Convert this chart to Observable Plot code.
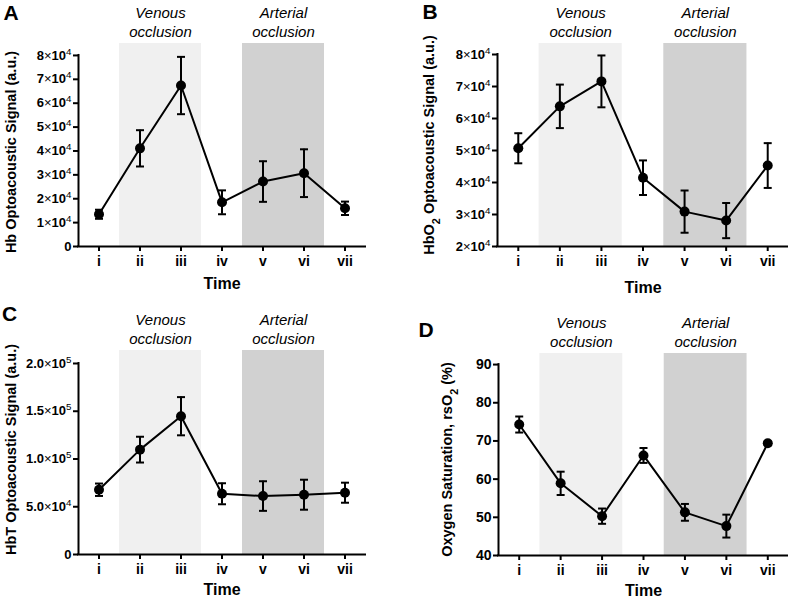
<!DOCTYPE html>
<html><head><meta charset="utf-8">
<script src="https://cdn.jsdelivr.net/npm/d3@7"></script>
<script src="https://cdn.jsdelivr.net/npm/@observablehq/plot@0.6"></script>
<style>
body{margin:0;background:#fff}
#wrap{position:relative;width:788px;height:598px;background:#fff}
.panel{position:absolute}
</style>
</head><body><div id="wrap"></div>
<script>
// ---- data ----
const timeLabels = ["i", "ii", "iii", "iv", "v", "vi", "vii"];
const timeIndex = [1, 2, 3, 4, 5, 6, 7];

const hbMean   = [13500, 41100, 67400, 18500, 27200, 30700, 16000];
const hbErr    = [1900, 7600, 12000, 5000, 8500, 10000, 2800];
const hbo2Mean = [50700, 63800, 71600, 41500, 30900, 28100, 45300];
const hbo2Err  = [4700, 6800, 8100, 5400, 6600, 5500, 7000];
const hbtMean  = [67800, 109800, 144800, 63600, 61200, 62600, 64700];
const hbtErr   = [6500, 13500, 20000, 11000, 15500, 15700, 10500];
const so2Mean  = [74.3, 58.9, 50.3, 66.2, 51.3, 47.7, 69.4];
const so2Err   = [2.1, 3.05, 2.0, 1.95, 2.2, 3.0, 0.5];

const hbTicks = [0, 10000, 20000, 30000, 40000, 50000, 60000, 70000, 80000];
const hbTickLabels = ["0", "1×10^4", "2×10^4", "3×10^4", "4×10^4", "5×10^4", "6×10^4", "7×10^4", "8×10^4"];
const hbo2Ticks = [20000, 30000, 40000, 50000, 60000, 70000, 80000];
const hbo2TickLabels = ["2×10^4", "3×10^4", "4×10^4", "5×10^4", "6×10^4", "7×10^4", "8×10^4"];
const hbtTicks = [0, 50000, 100000, 150000, 200000];
const hbtTickLabels = ["0", "5.0×10^4", "1.0×10^5", "1.5×10^5", "2.0×10^5"];
const so2Ticks = [40, 50, 60, 70, 80, 90];
const so2TickLabels = ["40", "50", "60", "70", "80", "90"];

const periodLine1 = ["Venous", "Arterial"];
const periodLine2 = ["occlusion", "occlusion"];
const periodStart = [1.5, 4.5];
const periodEnd   = [3.5, 6.5];
const periodFill  = ["#f0f0f0", "#d1d1d1"];

// ---- drawing ----
const NS = "http://www.w3.org/2000/svg";
function richText(svg) {
  svg.querySelectorAll("text").forEach(t => {
    if (t.querySelector("tspan")) return;
    const s = t.textContent;
    if (!/[\^_×]/.test(s)) return;
    t.textContent = "";
    let buf = "";
    const flush = () => { if (buf) { t.appendChild(document.createTextNode(buf)); buf = ""; } };
    for (let i = 0; i < s.length; i++) {
      const c = s[i];
      if ((c === "^" || c === "_") && i + 1 < s.length) {
        flush();
        const ts = document.createElementNS(NS, "tspan");
        ts.textContent = s[++i];
        ts.setAttribute("font-size", "75%");
        ts.setAttribute("font-weight", c === "^" ? "normal" : "bold");
        ts.setAttribute("baseline-shift", c === "^" ? "super" : "sub");
        t.appendChild(ts);
      } else if (c === "×") {
        flush();
        const ts = document.createElementNS(NS, "tspan");
        ts.textContent = "×";
        ts.setAttribute("font-weight", "normal");
        t.appendChild(ts);
      } else buf += c;
    }
    flush();
  });
}

function panel(cfg) {
  const rows = timeIndex.map((t, i) => ({t, m: cfg.mean[i], e: cfg.err[i]}));
  const periods = periodStart.map((s, i) => ({start: s, end: periodEnd[i], l1: periodLine1[i], l2: periodLine2[i], fill: periodFill[i]}));
  const tMin = cfg.ticks[0], tMax = cfg.ticks[cfg.ticks.length - 1];
  const [y0, yTop] = cfg.yDomain;
  const cap = {draw(ctx, size) { const w = Math.sqrt(size / Math.PI); ctx.moveTo(-w, 0); ctx.lineTo(w, 0); }};
  const svg = Plot.plot({
    width: cfg.width, height: cfg.height,
    marginLeft: cfg.ml, marginRight: cfg.mr, marginTop: cfg.mt, marginBottom: cfg.mb,
    style: {fontFamily: "'Liberation Sans', Arial, sans-serif", background: "transparent", color: "black", overflow: "visible"},
    x: {domain: [0.5, 7.5]},
    y: {domain: [y0, yTop]},
    color: {type: "identity"},
    marks: [
      Plot.rect(periods, {x1: "start", x2: "end", y1: y0, y2: yTop, fill: "fill"}),
      Plot.text(periods, {x: d => (d.start + d.end) / 2, frameAnchor: "top", dy: -30, text: "l1", fontStyle: "italic", fontSize: 15, lineAnchor: "middle"}),
      Plot.text(periods, {x: d => (d.start + d.end) / 2, frameAnchor: "top", dy: -11, text: "l2", fontStyle: "italic", fontSize: 15, lineAnchor: "middle"}),
      Plot.ruleX([0.5], {y1: tMin, y2: tMax, stroke: "black", strokeWidth: 2, strokeLinecap: "square"}),
      Plot.ruleY([tMin], {x1: 0.5, x2: 7.5, stroke: "black", strokeWidth: 2, strokeLinecap: "square"}),
      Plot.axisY(cfg.ticks, {tickFormat: d => cfg.tickLabels[cfg.ticks.indexOf(d)], tickSize: 5, tickPadding: 2, fontSize: cfg.yFont, fontWeight: "bold", strokeWidth: 2, label: null}),
      Plot.axisX(timeIndex, {tickFormat: d => timeLabels[d - 1], tickSize: 5, tickPadding: 5, fontSize: 14, fontWeight: "bold", strokeWidth: 2, label: null}),
      Plot.line(rows, {x: "t", y: "m", stroke: "black", strokeWidth: 2}),
      Plot.ruleX(rows, {x: "t", y1: d => d.m - d.e, y2: d => d.m + d.e, stroke: "black", strokeWidth: 2}),
      Plot.dot(rows, {x: "t", y: d => d.m + d.e, symbol: cap, r: 4, fill: "none", stroke: "black", strokeWidth: 2}),
      Plot.dot(rows, {x: "t", y: d => d.m - d.e, symbol: cap, r: 4, fill: "none", stroke: "black", strokeWidth: 2}),
      Plot.dot(rows, {x: "t", y: "m", r: 5, fill: "black"}),
      Plot.text([cfg.yLabel], {text: d => d, frameAnchor: "left", rotate: -90, dx: cfg.ylDx, dy: cfg.ylDy, fontSize: 14.5, fontWeight: "bold", textAnchor: "middle", lineAnchor: "middle"}),
      Plot.text(["Time"], {text: d => d, frameAnchor: "bottom", dy: cfg.timeDy, fontSize: 16, fontWeight: "bold", lineAnchor: "middle"}),
      Plot.text([cfg.letter], {text: d => d, frameAnchor: "top-left", dx: cfg.lDx, dy: cfg.lDy, fontSize: 21, fontWeight: "bold", textAnchor: "middle", lineAnchor: "middle"})
    ]
  });
  richText(svg);
  const div = document.createElement("div");
  div.className = "panel";
  div.style.left = cfg.left + "px";
  div.style.top = cfg.top + "px";
  div.appendChild(svg);
  document.getElementById("wrap").appendChild(div);
}

panel({letter: "A", left: 0, top: 0, width: 394, height: 300, ml: 78, mr: 29, mt: 43, mb: 54,
  mean: hbMean, err: hbErr, ticks: hbTicks, tickLabels: hbTickLabels, yDomain: [0, 85000], yFont: 13,
  yLabel: "Hb Optoacoustic Signal (a.u.)", ylDx: -67, ylDy: 7, timeDy: 37, lDx: -67.5, lDy: -30});
panel({letter: "B", left: 394, top: 0, width: 394, height: 300, ml: 103, mr: 0, mt: 43, mb: 54,
  mean: hbo2Mean, err: hbo2Err, ticks: hbo2Ticks, tickLabels: hbo2TickLabels, yDomain: [20000, 83440], yFont: 13,
  yLabel: "HbO_2 Optoacoustic Signal (a.u.)", ylDx: -68, ylDy: 0, timeDy: 41, lDx: -67.5, lDy: -31});
panel({letter: "C", left: 0, top: 300, width: 394, height: 298, ml: 78, mr: 29, mt: 50, mb: 44,
  mean: hbtMean, err: hbtErr, ticks: hbtTicks, tickLabels: hbtTickLabels, yDomain: [0, 213600], yFont: 13,
  yLabel: "HbT Optoacoustic Signal (a.u.)", ylDx: -67, ylDy: -3, timeDy: 35, lDx: -69, lDy: -36});
panel({letter: "D", left: 394, top: 300, width: 394, height: 298, ml: 104, mr: 0, mt: 53, mb: 43,
  mean: so2Mean, err: so2Err, ticks: so2Ticks, tickLabels: so2TickLabels, yDomain: [40, 92.9], yFont: 14,
  yLabel: "Oxygen Saturation, rsO_2 (%)", ylDx: -51, ylDy: 5, timeDy: 35, lDx: -72.5, lDy: -23});
</script></body></html>
